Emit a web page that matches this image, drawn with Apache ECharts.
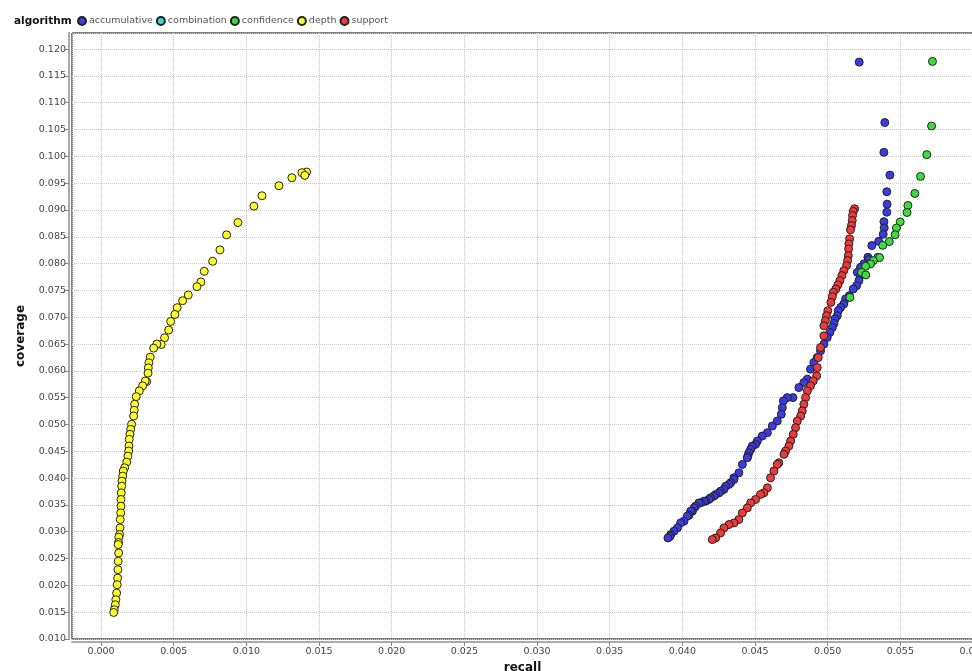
<!DOCTYPE html>
<html>
<head>
<meta charset="utf-8">
<script src="https://cdn.jsdelivr.net/npm/echarts@6/dist/echarts.min.js"></script>
<style>
  html, body { margin: 0; padding: 0; background: #fff; }
  #chart { width: 972px; height: 671px; }
</style>
</head>
<body>
<div id="chart"></div>
<script>
// series names, in legend order
const algorithms = ['accumulative', 'combination', 'confidence', 'depth', 'support'];
const colors = ['#3b3be6', '#3ad9dd', '#3cdc3c', '#ffff26', '#ee3a3a'];

// [recall, coverage] points
const accumulative = [
  [0.05217, 0.11757], [0.05393, 0.1063], [0.05387, 0.10075], [0.05428, 0.0965],
  [0.05407, 0.0934], [0.05409, 0.09108], [0.05407, 0.08959], [0.05387, 0.08781],
  [0.05389, 0.08667], [0.05382, 0.08548], [0.05351, 0.08415], [0.05304, 0.08336],
  [0.05277, 0.08118], [0.05283, 0.08075], [0.05249, 0.07994], [0.05226, 0.07931],
  [0.05204, 0.07837], [0.05226, 0.07776], [0.05215, 0.07682], [0.05199, 0.07589],
  [0.05176, 0.07527], [0.05149, 0.07402], [0.05123, 0.0734], [0.05111, 0.07247],
  [0.05089, 0.07183], [0.05073, 0.07121], [0.05066, 0.07028], [0.0505, 0.06966],
  [0.05043, 0.06884], [0.05032, 0.06809], [0.05015, 0.06716], [0.04997, 0.06622],
  [0.04974, 0.06499], [0.04951, 0.06374], [0.04928, 0.06249], [0.04905, 0.06155],
  [0.04882, 0.06032], [0.0486, 0.05845], [0.04836, 0.05781], [0.04802, 0.05688],
  [0.04761, 0.05501], [0.04722, 0.05501], [0.04695, 0.05439], [0.04688, 0.05314],
  [0.04681, 0.05191], [0.04653, 0.05065], [0.04619, 0.04972], [0.04585, 0.04847],
  [0.0455, 0.04785], [0.04516, 0.04692], [0.04504, 0.0463], [0.04481, 0.04598],
  [0.0447, 0.04536], [0.04458, 0.04473], [0.04451, 0.04411], [0.04447, 0.04379],
  [0.04413, 0.04256], [0.04389, 0.04099], [0.04355, 0.04006], [0.04355, 0.03976],
  [0.04332, 0.03912], [0.04321, 0.03882], [0.04298, 0.0385], [0.04286, 0.03789],
  [0.04263, 0.03757], [0.04252, 0.03725], [0.04229, 0.03695], [0.04217, 0.03664],
  [0.04194, 0.03632], [0.04183, 0.03602], [0.0416, 0.0357], [0.04149, 0.0357],
  [0.04125, 0.03538], [0.04114, 0.03538], [0.04091, 0.03477], [0.0408, 0.03445],
  [0.04069, 0.03383], [0.04057, 0.03383], [0.04045, 0.03308], [0.04034, 0.0329],
  [0.04011, 0.03196], [0.03988, 0.03164], [0.03966, 0.03071], [0.03942, 0.03009],
  [0.0392, 0.02948], [0.03915, 0.02916], [0.03901, 0.02884]
];
const combination = [];
const confidence = [
  [0.05721, 0.1177], [0.05715, 0.10566], [0.05682, 0.10032], [0.05639, 0.09626],
  [0.056, 0.09308], [0.05552, 0.09084], [0.05546, 0.08953], [0.05499, 0.08778],
  [0.05473, 0.08664], [0.05464, 0.08538], [0.05424, 0.08411], [0.05379, 0.0834],
  [0.05345, 0.08118], [0.05357, 0.08112], [0.05314, 0.08056], [0.05295, 0.07994],
  [0.05261, 0.0795], [0.05233, 0.07837], [0.05262, 0.07789], [0.05153, 0.0737]
];
const depth = [
  [0.01414, 0.09707], [0.01382, 0.09695], [0.01402, 0.09645], [0.01313, 0.09602],
  [0.01224, 0.09452], [0.01107, 0.09265], [0.01052, 0.09071], [0.00942, 0.08766],
  [0.00864, 0.08536], [0.00818, 0.08256], [0.00768, 0.08043], [0.0071, 0.07856],
  [0.00687, 0.07658], [0.0066, 0.0757], [0.006, 0.07415], [0.00561, 0.07308],
  [0.00524, 0.07178], [0.00508, 0.07052], [0.00479, 0.06921], [0.00465, 0.06761],
  [0.00437, 0.06617], [0.00414, 0.06492], [0.00384, 0.065], [0.00362, 0.06424],
  [0.00338, 0.06256], [0.00329, 0.0615], [0.00325, 0.06056], [0.00323, 0.05957],
  [0.00314, 0.058], [0.00304, 0.0581], [0.00286, 0.0572], [0.00263, 0.05626],
  [0.00242, 0.0552], [0.00231, 0.05378], [0.00228, 0.05265], [0.00224, 0.05159],
  [0.0021, 0.05004], [0.00204, 0.0491], [0.00199, 0.04817], [0.00194, 0.04723],
  [0.00192, 0.04598], [0.0019, 0.04505], [0.00185, 0.04411], [0.00176, 0.04299],
  [0.00162, 0.04193], [0.00153, 0.04131], [0.00149, 0.04037], [0.00144, 0.03944],
  [0.00142, 0.0385], [0.00139, 0.03725], [0.00137, 0.03602], [0.00137, 0.03477],
  [0.00135, 0.03351], [0.00132, 0.03228], [0.0013, 0.03071], [0.00128, 0.02948],
  [0.00122, 0.029], [0.0012, 0.028], [0.00118, 0.02761], [0.00121, 0.02604],
  [0.00118, 0.02449], [0.00116, 0.02293], [0.00114, 0.02136], [0.00111, 0.02013],
  [0.00107, 0.01856], [0.00102, 0.01733], [0.00098, 0.01639], [0.00091, 0.01546],
  [0.00087, 0.01495]
];
const support = [
  [0.05185, 0.09022], [0.05176, 0.08972], [0.05171, 0.08897], [0.05169, 0.08804],
  [0.05164, 0.0871], [0.05157, 0.0863], [0.05151, 0.08462], [0.05146, 0.08368],
  [0.05144, 0.08275], [0.05142, 0.0815], [0.05137, 0.08056], [0.0513, 0.07963],
  [0.05111, 0.07869], [0.05098, 0.07776], [0.05084, 0.07682], [0.0507, 0.07602],
  [0.05056, 0.07527], [0.05039, 0.07464], [0.05032, 0.07383], [0.05022, 0.07277],
  [0.05001, 0.07121], [0.04992, 0.07028], [0.04984, 0.06935], [0.04974, 0.06841],
  [0.04974, 0.06654], [0.04951, 0.06436], [0.04935, 0.06249], [0.04928, 0.06062],
  [0.04924, 0.05907], [0.04901, 0.05813], [0.04882, 0.0572], [0.0486, 0.05626],
  [0.04848, 0.05501], [0.04836, 0.05378], [0.04825, 0.05252], [0.04814, 0.05159],
  [0.04791, 0.05065], [0.04779, 0.0494], [0.04763, 0.04817], [0.04745, 0.04692],
  [0.04733, 0.04598], [0.0471, 0.04505], [0.04699, 0.04443], [0.04664, 0.04286],
  [0.04653, 0.04256], [0.0463, 0.04131], [0.04607, 0.04006], [0.04585, 0.03819],
  [0.04561, 0.03725], [0.04538, 0.03695], [0.04504, 0.03602], [0.0447, 0.03538],
  [0.04447, 0.03445], [0.04413, 0.03351], [0.04389, 0.03228], [0.04355, 0.03164],
  [0.04321, 0.03134], [0.04286, 0.03071], [0.04263, 0.02978], [0.04229, 0.02884],
  [0.04206, 0.02854]
];
const seriesData = [accumulative, combination, confidence, depth, support];

const FONT = 'DejaVu Sans';
const fmt = v => v.toFixed(3);

const chart = echarts.init(document.getElementById('chart'), null, { renderer: 'canvas' });

const axisCommon = {
  type: 'value',
  offset: 3,
  nameLocation: 'middle',
  nameTextStyle: { fontFamily: FONT, fontWeight: 'bold', fontSize: 12, color: '#111' },
  axisLine: { show: true, onZero: false, lineStyle: { color: '#aaa', width: 2 } },
  axisTick: { show: true, length: 4, lineStyle: { color: '#888' } },
  splitLine: { show: true, lineStyle: { color: '#c8c8c8', type: 'dotted' } },
  minInterval: 0.005,
  maxInterval: 0.005
};

chart.setOption({
  backgroundColor: '#fff',
  animation: false,
  title: {
    text: 'algorithm',
    left: 9, top: 11,
    textStyle: { fontFamily: FONT, fontWeight: 'bold', fontSize: 10.5, color: '#111' }
  },
  legend: {
    left: 72, top: 11,
    itemWidth: 8, itemHeight: 8, itemGap: 3,
    icon: 'circle',
    textStyle: { fontFamily: FONT, fontSize: 9.5, color: '#555', padding: [0, 0, 0, -2] },
    data: algorithms
  },
  grid: {
    left: 72, top: 33, right: -1, bottom: 32,
    outerBoundsMode: 'none',
    containLabel: false,
    show: true, borderColor: '#000', borderWidth: 1
  },
  xAxis: Object.assign({}, axisCommon, {
    name: 'recall', nameGap: 16,
    min: -0.002, max: 0.060, splitNumber: 12,
    axisLabel: { formatter: fmt, showMinLabel: false, fontFamily: FONT, fontSize: 9.5, color: '#444', margin: 5 }
  }),
  yAxis: Object.assign({}, axisCommon, {
    name: 'coverage', nameGap: 42,
    min: 0.010, max: 0.123, splitNumber: 22,
    axisLabel: { formatter: fmt, showMaxLabel: false, fontFamily: FONT, fontSize: 9.5, color: '#444', margin: 3 }
  }),
  series: algorithms.map((name, i) => ({
    name: name,
    type: 'scatter',
    data: seriesData[i],
    symbol: 'circle',
    symbolSize: 8,
    itemStyle: { color: colors[i], borderColor: '#222', borderWidth: 1, opacity: 1 }
  }))
});
</script>
</body>
</html>
